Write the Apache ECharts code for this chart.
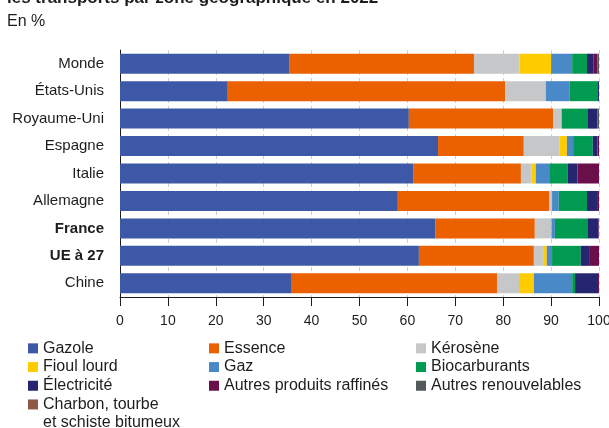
<!DOCTYPE html>
<html>
<head>
<meta charset="utf-8">
<script src="https://cdn.jsdelivr.net/npm/echarts@6/dist/echarts.min.js"></script>
<style>
  html, body { margin: 0; padding: 0; background: #fff; }
  #chart { width: 609px; height: 428px; }
</style>
</head>
<body>
<div id="chart"></div>
<script>
  // zones, from top to bottom
  const zones = ['Monde', 'États-Unis', 'Royaume-Uni', 'Espagne', 'Italie', 'Allemagne', 'France', 'UE à 27', 'Chine']
  const boldZones = ['France', 'UE à 27']
  const xTicks = [0, 10, 20, 30, 40, 50, 60, 70, 80, 90, 100]

  // shares in %, one value per zone
  const gazole        = [35.3, 22.5, 60.3, 66.4, 61.2, 58.0, 65.8, 62.4, 35.7]
  const essence       = [38.6, 57.9, 30.1, 17.9, 22.5, 31.6, 20.8, 24.0, 43.0]
  const kerosene      = [9.5, 8.5, 1.7, 7.5, 2.2, 0.6, 3.4, 2.1, 4.6]
  const fioulLourd    = [6.6, 0, 0.1, 1.5, 0.9, 0, 0.1, 0.6, 3.1]
  const gaz           = [4.4, 5.0, 0, 1.3, 2.8, 1.4, 0.7, 1.1, 8.0]
  const biocarburants = [3.1, 5.9, 5.5, 4.1, 3.9, 5.9, 6.9, 6.0, 0.6]
  const electricite   = [1.4, 0.2, 2.0, 1.0, 2.0, 2.1, 2.2, 1.9, 4.8]
  const autresRaff    = [0.8, 0, 0, 0.3, 4.5, 0.4, 0.1, 1.9, 0.2]
  const autresRenouv  = [0.3, 0, 0.3, 0, 0, 0, 0, 0, 0]
  const charbon       = [0, 0, 0, 0, 0, 0, 0, 0, 0]

  const seriesList = [
    { name: 'Gazole', data: gazole, color: '#3c58a6' },
    { name: 'Essence', data: essence, color: '#eb6100' },
    { name: 'Kérosène', data: kerosene, color: '#c6c7c9' },
    { name: 'Fioul lourd', data: fioulLourd, color: '#ffcc00' },
    { name: 'Gaz', data: gaz, color: '#4a89c8' },
    { name: 'Biocarburants', data: biocarburants, color: '#009a50' },
    { name: 'Électricité', data: electricite, color: '#262570' },
    { name: 'Autres produits raffinés', data: autresRaff, color: '#6b0f4a' },
    { name: 'Autres renouvelables', data: autresRenouv, color: '#54595b' },
    { name: 'Charbon, tourbe et schiste bitumeux', data: charbon, color: '#8e5a45' }
  ]

  const font = 'Liberation Sans, Arial, Helvetica, sans-serif'
  const legendCommon = {
    orient: 'vertical',
    top: 339,
    height: 200,
    padding: 0,
    itemWidth: 10,
    itemHeight: 10,
    itemGap: 0,
    icon: 'rect',
    selectedMode: false,
    textStyle: { fontFamily: font, fontSize: 16, color: '#1d1d1b', lineHeight: 18.7 }
  }

  let chart = echarts.init(document.getElementById('chart'))
  let option = {
    animation: false,
    title: [
      {
        text: 'les transports par zone géographique en 2022',
        left: 2,
        top: -15,
        textStyle: { fontFamily: font, fontSize: 17, fontWeight: 'bold', color: '#1d1d1b' }
      },
      {
        text: 'En %',
        left: 2,
        top: 9,
        textStyle: { fontFamily: font, fontSize: 16, fontWeight: 'normal', color: '#1d1d1b' }
      }
    ],
    legend: [
      Object.assign({}, legendCommon, {
        left: 28,
        data: ['Gazole', 'Fioul lourd', 'Électricité', 'Charbon, tourbe et schiste bitumeux'],
        formatter: n => n === 'Charbon, tourbe et schiste bitumeux' ? 'Charbon, tourbe' : n
      }),
      Object.assign({}, legendCommon, {
        left: 209,
        data: ['Essence', 'Gaz', 'Autres produits raffinés']
      }),
      Object.assign({}, legendCommon, {
        left: 416,
        data: ['Kérosène', 'Biocarburants', 'Autres renouvelables']
      })
    ],
    // second line of the last legend entry
    graphic: [{
      type: 'text',
      left: 43,
      top: 415,
      style: { text: 'et schiste bitumeux', fontFamily: font, fontSize: 16, fill: '#1d1d1b' }
    }],
    grid: {
      left: 120,
      right: 10,
      top: 50,
      bottom: 131,
      containLabel: false,
      outerBoundsMode: 'none'
    },
    xAxis: {
      type: 'value',
      min: 0,
      max: 100,
      interval: 10,
      axisLine: { show: true, lineStyle: { color: '#1d1d1b', width: 1 } },
      axisTick: { show: true, length: 9, lineStyle: { color: '#1d1d1b' } },
      axisLabel: {
        fontFamily: font, fontSize: 14, color: '#1d1d1b', margin: 17,
        formatter: v => xTicks.indexOf(v) >= 0 ? String(v) : ''
      },
      splitLine: { show: true, lineStyle: { color: '#cfcfcf', type: [4, 3] } }
    },
    yAxis: {
      type: 'category',
      data: zones,
      inverse: true,
      axisLine: { show: true, lineStyle: { color: '#1d1d1b', width: 1 } },
      axisTick: { show: false },
      axisLabel: {
        fontFamily: font, fontSize: 15, color: '#1d1d1b', margin: 16,
        formatter: v => boldZones.indexOf(v) >= 0 ? '{b|' + v + '}' : v,
        rich: { b: { fontFamily: font, fontSize: 15, fontWeight: 'bold', color: '#1d1d1b' } }
      }
    },
    series: seriesList.map(s => ({
      name: s.name,
      type: 'bar',
      stack: 'total',
      barWidth: 20,
      data: s.data,
      itemStyle: { color: s.color },
      emphasis: { disabled: true }
    }))
  }
  chart.setOption(option)
</script>
</body>
</html>
